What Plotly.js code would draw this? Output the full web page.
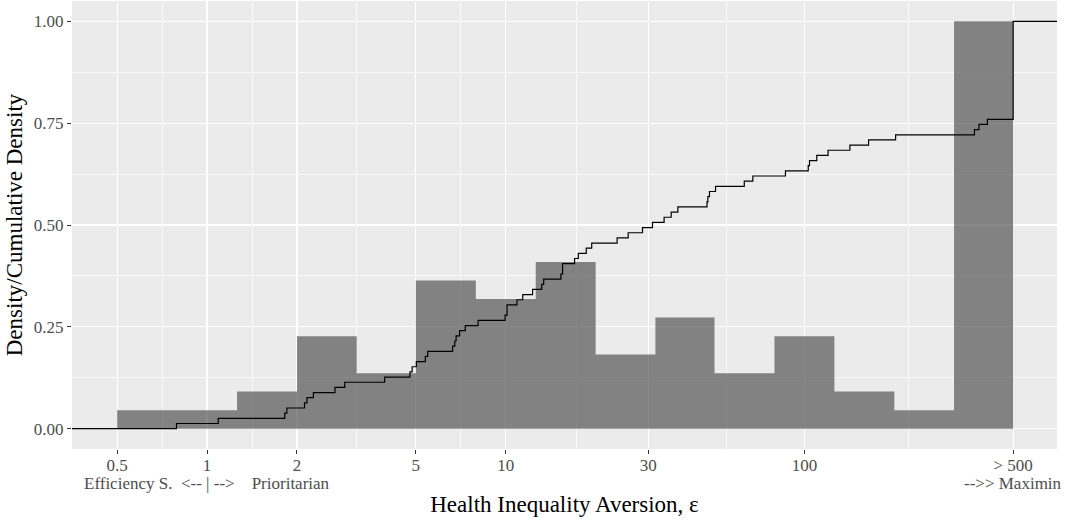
<!DOCTYPE html>
<html>
<head>
<meta charset="utf-8">
<script src="https://cdn.plot.ly/plotly-3.0.1.min.js"></script>
<style>
  html, body { margin: 0; padding: 0; background: #ffffff; }
  #myDiv { width: 1071px; height: 525px; }
</style>
</head>
<body>
<div id="myDiv"></div>
<script>
// histogram bins (log10 width 0.2) and the scaled density of each bin
var binEdges = [0.5, 0.794, 1.26, 2, 3.17, 5, 7.94, 12.6, 20, 31.7, 50, 79.4, 126, 200, 317, 500];
var binDensity = [0.045, 0.045, 0.091, 0.227, 0.136, 0.364, 0.318, 0.409, 0.182, 0.273, 0.136, 0.227, 0.091, 0.045, 1.0];

// individual answers (epsilon), sorted, 19 of them at the "> 500" cap
var epsValues = [
  0.79, 1.09, 1.82, 1.85, 2.12, 2.16, 2.27, 2.68, 2.89, 3.93,
  4.78, 4.86, 5.02, 5.38, 5.48, 6.64, 6.75, 6.82, 7.01, 7.32,
  8.08, 9.95, 10.1, 10.1, 10.9, 11.4, 12.3, 13.2, 13.4, 15.3,
  15.5, 15.5, 17.0, 17.5, 18.6, 19.4, 23.6, 25.7, 28.7, 31.0,
  33.9, 35.8, 37.7, 47.2, 47.5, 48.1, 50.4, 62.9, 67.2, 86.4,
  103, 104, 110, 120, 142, 164, 202, 371, 384, 410,
  500, 500, 500, 500, 500, 500, 500, 500, 500, 500,
  500, 500, 500, 500, 500, 500, 500, 500, 500
];

var tickVals = [0.5, 1, 2, 5, 10, 30, 100, 500];
var tickText = ['0.5', '1', '2', '5', '10', '30', '100', '&gt; 500'];
// second line under two of the ticks
var subLabelAt = [1, 500];
var subLabelText = [
  'Efficiency S.\u00a0 &lt;--\u00a0|\u00a0--&gt;\u00a0\u00a0\u00a0 Prioritarian',
  '--&gt;&gt; Maximin'
];
var minorVals = [0.707, 1.414, 3.16, 7.07, 17.3, 54.8, 223.6];
var xLimits = [0.353, 701];

var fontFam = '"Liberation Serif", "DejaVu Serif", serif';
var tickGrey = '#4D4D4D';

// bars as one stepped area
var barTrace = {
  x: binEdges,
  y: binDensity.concat([binDensity[binDensity.length - 1]]),
  type: 'scatter',
  mode: 'lines',
  line: { shape: 'hv', width: 0, color: 'rgba(0,0,0,0)' },
  fill: 'tozeroy',
  fillcolor: 'rgba(85,85,85,0.7)',
  hoverinfo: 'skip',
};

// empirical cdf, padded out to both ends of the panel
var n = epsValues.length;
var ecdfX = [xLimits[0]], ecdfY = [0];
epsValues.forEach((v, i) => {
  ecdfX.push(v);
  ecdfY.push((i + 1) / n);
});
ecdfX.push(xLimits[1]);
ecdfY.push(1);

var ecdfTrace = {
  x: ecdfX,
  y: ecdfY,
  type: 'scatter',
  mode: 'lines',
  line: { shape: 'hv', width: 1.2, color: '#000000' },
};

var annotations = subLabelAt.map((v, i) => ({
  x: Math.log10(v),
  xref: 'x',
  y: -0.076,
  yref: 'paper',
  xanchor: 'center',
  yanchor: 'middle',
  text: subLabelText[i],
  showarrow: false,
  font: { family: fontFam, size: 17, color: tickGrey },
}));

var layout = {
  width: 1071,
  height: 525,
  showlegend: false,
  paper_bgcolor: '#ffffff',
  plot_bgcolor: '#EBEBEB',
  margin: { l: 72, r: 14, t: 1, b: 76 },
  font: { family: fontFam, color: '#000000' },
  xaxis: {
    type: 'log',
    range: [Math.log10(xLimits[0]), Math.log10(xLimits[1])],
    tickmode: 'array',
    tickvals: tickVals,
    ticktext: tickText,
    tickangle: 0,
    ticks: 'outside',
    ticklen: 4,
    tickwidth: 1,
    tickcolor: '#333333',
    tickfont: { family: fontFam, size: 17, color: tickGrey },
    ticklabelstandoff: -3,
    showgrid: true,
    gridcolor: '#ffffff',
    gridwidth: 1.2,
    minor: { tickmode: 'array', tickvals: minorVals, showgrid: true, gridcolor: '#ffffff', gridwidth: 0.7 },
    zeroline: false,
    showline: false,
    automargin: false,
    title: { text: 'Health Inequality Aversion, ε', font: { family: fontFam, size: 23, color: '#000000' }, standoff: 21 },
  },
  yaxis: {
    range: [-0.05, 1.05],
    tickmode: 'array',
    tickvals: [0, 0.25, 0.5, 0.75, 1],
    ticktext: ['0.00', '0.25', '0.50', '0.75', '1.00'],
    ticks: 'outside',
    ticklen: 4,
    tickwidth: 1,
    tickcolor: '#333333',
    tickfont: { family: fontFam, size: 17, color: tickGrey },
    showgrid: true,
    gridcolor: '#ffffff',
    gridwidth: 1.2,
    minor: { tickmode: 'array', tickvals: [0.125, 0.375, 0.625, 0.875], showgrid: true, gridcolor: '#ffffff', gridwidth: 0.7 },
    zeroline: false,
    showline: false,
    automargin: false,
    title: { text: 'Density/Cumulative Density', font: { family: fontFam, size: 23, color: '#000000' }, standoff: 4 },
  },
  annotations: annotations,
};

Plotly.newPlot('myDiv', [barTrace, ecdfTrace], layout, { displayModeBar: false, staticPlot: true });
</script>
</body>
</html>
